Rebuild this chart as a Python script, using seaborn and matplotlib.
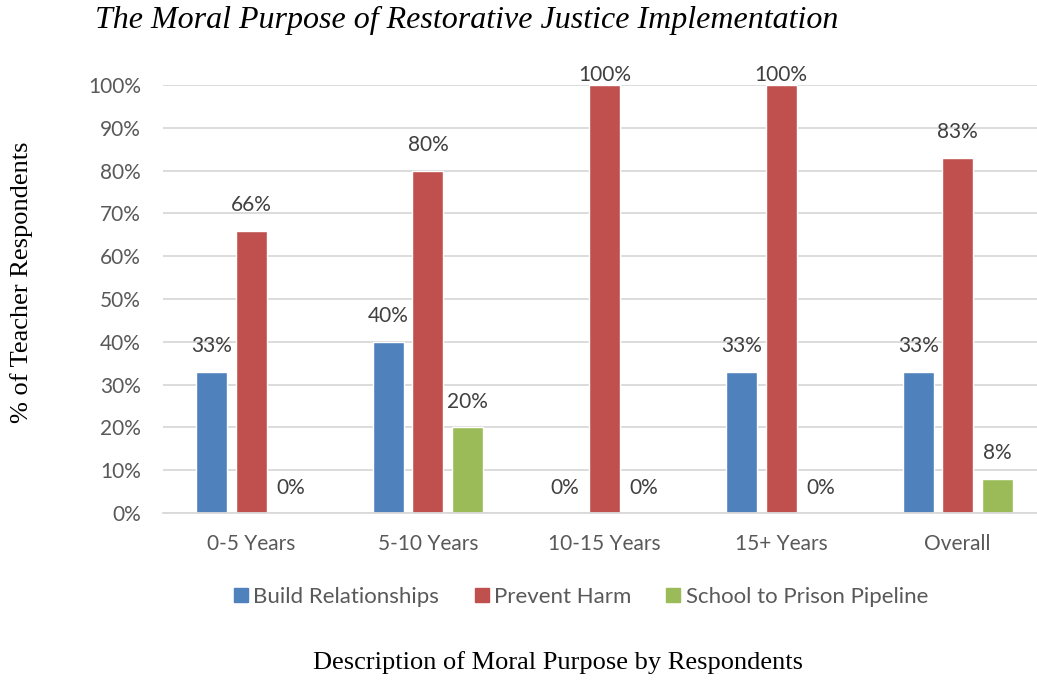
import matplotlib
matplotlib.use("Agg")
import matplotlib.pyplot as plt
from matplotlib.lines import Line2D
import seaborn as sns
import pandas as pd

categories = ["0-5 Years", "5-10 Years", "10-15 Years", "15+ Years", "Overall"]
series_names = ["Build Relationships", "Prevent Harm", "School to Prison Pipeline"]
build_relationships = [33, 40, 0, 33, 33]
prevent_harm = [66, 80, 100, 100, 83]
school_to_prison = [0, 20, 0, 0, 8]
y_ticks = [0, 10, 20, 30, 40, 50, 60, 70, 80, 90, 100]

colors = ["#4F81BD", "#C0504D", "#9BBB59"]

rows = []
for name, vals in zip(series_names, [build_relationships, prevent_harm, school_to_prison]):
    for cat, v in zip(categories, vals):
        rows.append({"category": cat, "series": name, "value": v / 100})
df = pd.DataFrame(rows)

sns.set_theme(style="white")
sans = ["Lato", "DejaVu Sans"]
serif = ["Liberation Serif", "DejaVu Serif"]
plt.rcParams["font.family"] = sans

fig = plt.figure(figsize=(10.37, 6.81), dpi=100)
ax = fig.add_axes([163 / 1037, 1 - 513 / 681, 883 / 1037, 428 / 681])

sns.barplot(data=df, x="category", y="value", hue="series", order=categories,
            hue_order=series_names, palette=colors, width=0.671, gap=0.215,
            saturation=1, legend=False, ax=ax, errorbar=None)

# value labels sit above each bar, kept inside the chart area near the top
label_offset = 25.5 / 428
label_ceiling = 1 + 10 / 428
for container in ax.containers:
    for bar in container:
        h = bar.get_height()
        x = bar.get_x() + bar.get_width() / 2
        y = min(h + label_offset, label_ceiling)
        ax.text(x, y, f"{round(h * 100):d}%", ha="center", va="center",
                fontsize=15, color="#404040", clip_on=False)

ax.set_ylim(0, 1)
ax.set_xlim(-0.5, 4.5)
ax.set_yticks([t / 100 for t in y_ticks])
ax.set_yticklabels([f"{t}%" for t in y_ticks])
ax.yaxis.grid(True, color="#D9D9D9", linewidth=1.3)
ax.set_axisbelow(True)
for side in ["top", "right", "left"]:
    ax.spines[side].set_visible(False)
ax.spines["bottom"].set_color("#D9D9D9")
ax.spines["bottom"].set_linewidth(1.3)
ax.tick_params(axis="both", length=0, labelsize=15, colors="#595959")
ax.tick_params(axis="y", pad=16)
ax.tick_params(axis="x", pad=15)
ax.set_xlabel("")
ax.set_ylabel("")

fig.text(95 / 1037, 1 - 20 / 681, "The Moral Purpose of Restorative Justice Implementation",
         family=serif, style="italic", fontsize=23, ha="left", va="center", color="black")
fig.text(22 / 1037, 1 - 282 / 681, "% of Teacher Respondents", family=serif,
         fontsize=19, rotation=90, ha="center", va="center", color="black")
fig.text(558 / 1037, 1 - 663 / 681, "Description of Moral Purpose by Respondents",
         family=serif, fontsize=19, ha="center", va="center", color="black")

handles = [Line2D([0], [0], marker="s", linestyle="none", markersize=10,
                  markerfacecolor=c, markeredgecolor=c) for c in colors]
fig.legend(handles, series_names, loc="center", bbox_to_anchor=(579 / 1037, 1 - 597 / 681),
           ncol=3, frameon=False, fontsize=16, handletextpad=0.05, columnspacing=1.4,
           labelcolor="#595959", handlelength=1.0)

fig.savefig("out.png", dpi=100)
